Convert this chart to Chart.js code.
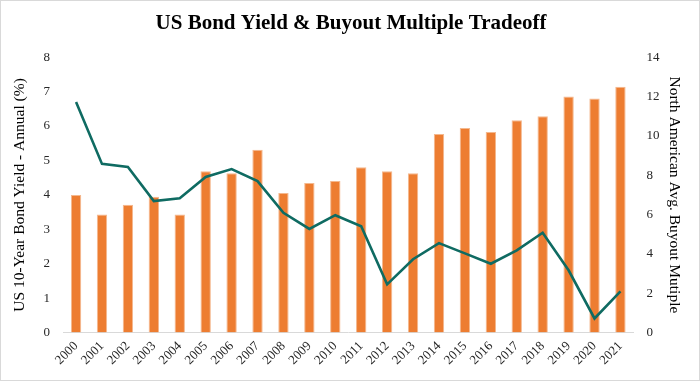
<!DOCTYPE html>
<html>
<head>
<meta charset="utf-8">
<script src="https://cdn.jsdelivr.net/npm/chart.js@4/dist/chart.umd.min.js"></script>
<style>
  html, body { margin: 0; padding: 0; background: #fff; }
  #wrap { width: 700px; height: 381px; box-sizing: border-box; border: 1px solid #d9d9d9; }
  #chart { display: block; }
</style>
</head>
<body>
<div id="wrap"><canvas id="chart" width="698" height="379"></canvas></div>
<script>
  // years on the x axis
  const years = ['2000', '2001', '2002', '2003', '2004', '2005', '2006', '2007', '2008', '2009', '2010',
    '2011', '2012', '2013', '2014', '2015', '2016', '2017', '2018', '2019', '2020', '2021'];
  // US 10-year yield, left axis
  const bondYield = [6.70, 4.90, 4.81, 3.82, 3.90, 4.52, 4.75, 4.40, 3.48, 3.01, 3.41,
    3.09, 1.40, 2.13, 2.60, 2.30, 2.00, 2.39, 2.90, 1.81, 0.41, 1.20];
  // buyout multiple, right axis
  const buyoutMultiple = [7.0, 6.0, 6.5, 6.9, 6.0, 8.2, 8.1, 9.3, 7.1, 7.6, 7.7,
    8.4, 8.2, 8.1, 10.1, 10.4, 10.2, 10.8, 11.0, 12.0, 11.9, 12.5];

  const serif = '"Liberation Serif", "Times New Roman", serif';
  const textColor = '#262626';

  const ctx = document.getElementById('chart');
  new Chart(ctx, {
    type: 'bar',
    data: {
      labels: years,
      datasets: [{
        type: 'line',
        label: 'US 10-Year Bond Yield',
        data: bondYield,
        yAxisID: 'y',
        borderColor: '#0f6b62',
        backgroundColor: '#0f6b62',
        borderWidth: 2.6,
        pointRadius: 0,
        tension: 0,
        order: 0
      }, {
        type: 'bar',
        label: 'Buyout Multiple',
        data: buyoutMultiple,
        yAxisID: 'y1',
        backgroundColor: '#ed7d31',
        borderColor: '#f4b88e',
        borderWidth: {top: 1, left: 1, right: 1, bottom: 0},
        categoryPercentage: 0.8,
        barPercentage: 0.5,
        order: 1
      }]
    },
    options: {
      responsive: false,
      animation: false,
      layout: { padding: { top: 4, left: 10, right: 8, bottom: 6 } },
      plugins: {
        legend: { display: false },
        tooltip: { enabled: false },
        title: {
          display: true,
          text: 'US Bond Yield & Buyout Multiple Tradeoff',
          color: '#000',
          font: { family: serif, size: 21, weight: 'bold' },
          padding: { top: 6, bottom: 21 }
        }
      },
      scales: {
        x: {
          grid: { display: false, drawTicks: false },
          border: { display: true, color: '#d9d9d9', width: 1 },
          ticks: {
            color: textColor,
            font: { family: serif, size: 13 },
            autoSkip: false,
            minRotation: 45,
            maxRotation: 45,
            padding: 6
          }
        },
        y: {
          position: 'left',
          min: 0,
          max: 8,
          grid: { display: false },
          border: { display: false },
          ticks: { stepSize: 1, color: textColor, font: { family: serif, size: 13 }, padding: 5 },
          title: {
            display: true,
            text: 'US 10-Year Bond Yield - Annual (%)',
            color: '#000',
            font: { family: serif, size: 15.5 },
            padding: { top: 0, bottom: 9 }
          }
        },
        y1: {
          position: 'right',
          min: 0,
          max: 14,
          grid: { display: false },
          border: { display: false },
          ticks: { stepSize: 2, color: textColor, font: { family: serif, size: 13 }, padding: 5 },
          title: {
            display: true,
            text: 'North American Avg. Buyout Mutiple',
            color: '#000',
            font: { family: serif, size: 15.5 },
            padding: { top: 8, bottom: 0 }
          }
        }
      }
    }
  });
</script>
</body>
</html>
